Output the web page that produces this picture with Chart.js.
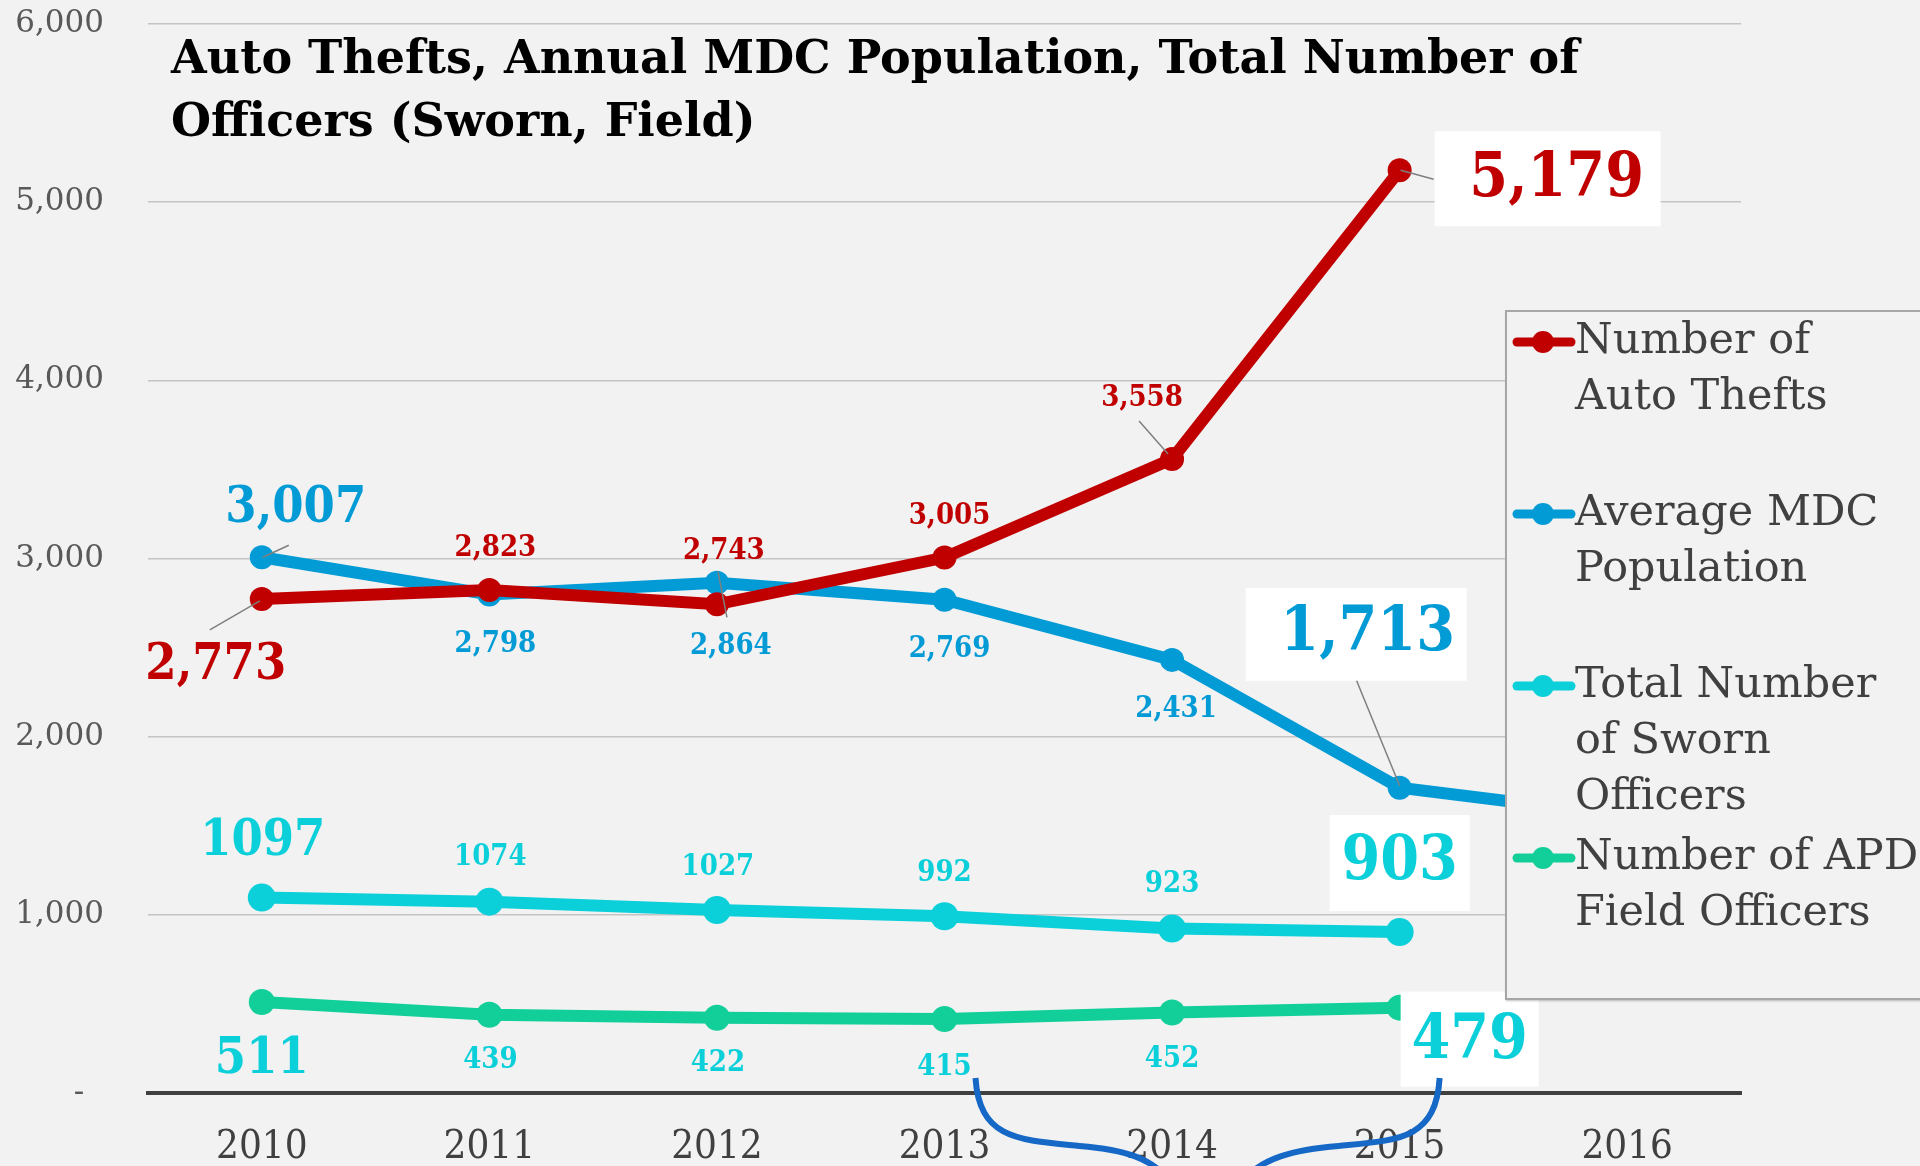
<!DOCTYPE html>
<html lang="en">
<head>
<meta charset="UTF-8">
<title>Auto Thefts, Annual MDC Population, Total Number of Officers</title>
<script src="https://cdn.jsdelivr.net/npm/chart.js"></script>
<style>
  html, body { margin: 0; padding: 0; background: #f2f2f2; }
  #wrap { width: 1920px; height: 1166px; position: relative; }
</style>
</head>
<body>
<div id="wrap"><canvas id="chart"></canvas></div>
<script>
// yearly figures
const years = ['2010', '2011', '2012', '2013', '2014', '2015', '2016'];
const autoThefts = [2773, 2823, 2743, 3005, 3558, 5179, null];
const mdcPopulation = [3007, 2798, 2864, 2769, 2431, 1713, 1555];
const swornOfficers = [1097, 1074, 1027, 992, 923, 903, null];
const fieldOfficers = [511, 439, 422, 415, 452, 479, null];

const seriesNames = ['Number of Auto Thefts', 'Average MDC Population', 'Total Number of Sworn Officers', 'Number of APD Field Officers'];
const legendLines = [['Number of', 'Auto Thefts'], ['Average MDC', 'Population'], ['Total Number', 'of Sworn', 'Officers'], ['Number of APD', 'Field Officers']];
const seriesColors = ['#c00000', '#039bd6', '#0bcfd9', '#12cf9a'];
const labelColors = ['#c00000', '#039bd6', '#0bcfd9', '#0bcfd9'];

const TEXT = '#404040';
const SERIF = "'DejaVu Serif'";
const SERIF_C = "'DejaVu Serif Condensed', 'DejaVu Serif'";

// value label placement: [dx, dy, size] from the point, optional white box and leader
const S = 29, M = 50, L = 62;
const labelLayout = [
  [ {d: [-46, 67, M], lead: [-2, 2, -52, 31]}, {d: [6, -42, S]}, {d: [7, -53, S], lead: [1, -33, 10, 13]},
    {d: [5, -41, S]}, {d: [-30, -61, S], lead: [-33, -38, -4, -5]},
    {d: [157, 10, L], box: [-122, -49, 104, 46], lead: [1, 0, 34, 9]}, null ],
  [ {d: [34, -48, M], lead: [1, 0, 27, -12]}, {d: [6, 50, S]}, {d: [14, 64, S]}, {d: [5, 50, S]}, {d: [4, 50, S]},
    {d: [-32, -154, L], box: [-122, -46, 99, 47], lead: [-43, -107, 0, -2]}, null ],
  [ {d: [1, -56, M]}, {d: [1, -44, S]}, {d: [1, -43, S]}, {d: [0, -43, S]}, {d: [0, -44, S]},
    {d: [0, -69, L], box: [-70, -48, 70, 48]}, null ],
  [ {d: [0, 58, M]}, {d: [1, 46, S]}, {d: [1, 46, S]}, {d: [0, 48, S]}, {d: [0, 47, S]},
    {d: [70, 34, L], box: [-69, -50, 69, 45]}, null ]
];

function fmt(v) { return v.toLocaleString('en-US'); }

const valueLabels = {
  id: 'valueLabels',
  afterDatasetsDraw(chart) {
    const ctx = chart.ctx;
    ctx.save();
    chart.data.datasets.forEach((ds, i) => {
      const meta = chart.getDatasetMeta(i);
      meta.data.forEach((pt, j) => {
        const lay = labelLayout[i][j];
        if (!lay || ds.data[j] == null) return;
        const cx = pt.x + lay.d[0], cy = pt.y + lay.d[1];
        if (lay.box) {
          ctx.fillStyle = '#ffffff';
          ctx.fillRect(cx + lay.box[0], cy + lay.box[1], lay.box[2] - lay.box[0], lay.box[3] - lay.box[1]);
        }
        if (lay.lead) {
          ctx.strokeStyle = '#7f7f7f';
          ctx.lineWidth = 1.5;
          ctx.beginPath();
          ctx.moveTo(pt.x + lay.lead[0], pt.y + lay.lead[1]);
          ctx.lineTo(pt.x + lay.lead[2], pt.y + lay.lead[3]);
          ctx.stroke();
        }
        ctx.fillStyle = labelColors[i];
        ctx.font = 'bold ' + lay.d[2] + 'px ' + SERIF_C;
        ctx.textAlign = 'center';
        ctx.textBaseline = 'middle';
        const txt = i >= 2 ? String(ds.data[j]) : fmt(ds.data[j]);
        ctx.fillText(txt, cx, cy);
      });
    });
    ctx.restore();
  }
};

const overlay = {
  id: 'overlay',
  afterDraw(chart) {
    const ctx = chart.ctx;
    const area = chart.chartArea;
    const xs = chart.scales.x;
    ctx.save();

    // title inside the plot
    ctx.fillStyle = '#000000';
    ctx.font = 'bold 46px ' + SERIF;
    ctx.textAlign = 'left';
    ctx.textBaseline = 'middle';
    ctx.fillText('Auto Thefts, Annual MDC Population, Total Number of', area.left + 23, 61);
    ctx.fillText('Officers (Sworn, Field)', area.left + 23, 124);

    // legend panel on the right, covering the tail of the MDC line
    const bx = area.right - 235, by = 311;
    ctx.save();
    ctx.shadowColor = 'rgba(0,0,0,0.25)';
    ctx.shadowOffsetY = 2;
    ctx.shadowBlur = 2;
    ctx.fillStyle = '#f2f2f2';
    ctx.fillRect(bx, by, 500, 688);
    ctx.restore();
    ctx.strokeStyle = '#a6a6a6';
    ctx.lineWidth = 2;
    ctx.strokeRect(bx, by, 500, 688);

    ctx.font = '43px ' + SERIF;
    ctx.textBaseline = 'middle';
    legendLines.forEach((lines, i) => {
      const y = by + 31 + i * 172;
      ctx.strokeStyle = seriesColors[i];
      ctx.lineWidth = 9;
      ctx.lineCap = 'round';
      ctx.beginPath();
      ctx.moveTo(bx + 11, y);
      ctx.lineTo(bx + 65, y);
      ctx.stroke();
      ctx.fillStyle = seriesColors[i];
      ctx.beginPath();
      ctx.arc(bx + 37, y, 11, 0, Math.PI * 2);
      ctx.fill();
      ctx.fillStyle = TEXT;
      lines.forEach((t, k) => ctx.fillText(t, bx + 69, y + k * 56));
    });

    // blue bracket strokes below the 2013-2015 labels
    const top = area.bottom - 15;
    const lx = xs.getPixelForValue(3) + 31;
    const rx = xs.getPixelForValue(5) + 40;
    ctx.strokeStyle = '#1668c6';
    ctx.lineWidth = 6;
    ctx.lineCap = 'butt';
    ctx.beginPath();
    ctx.moveTo(lx, top);
    ctx.bezierCurveTo(lx + 4, top + 62, lx + 44, top + 62, lx + 104, top + 68);
    ctx.bezierCurveTo(lx + 154, top + 72, lx + 174, top + 82, lx + 189, top + 97);
    ctx.stroke();
    ctx.beginPath();
    ctx.moveTo(rx, top);
    ctx.bezierCurveTo(rx - 4, top + 62, rx - 41, top + 62, rx - 101, top + 68);
    ctx.bezierCurveTo(rx - 151, top + 72, rx - 176, top + 82, rx - 191, top + 97);
    ctx.stroke();
    ctx.restore();
  }
};

function lineSet(i, values, width, radius) {
  return {
    label: seriesNames[i],
    data: values,
    borderColor: seriesColors[i],
    backgroundColor: seriesColors[i],
    borderWidth: width,
    pointRadius: radius,
    pointHoverRadius: radius,
    pointBorderWidth: 0,
    tension: 0,
    spanGaps: false
  };
}

new Chart(document.getElementById('chart'), {
  type: 'line',
  data: {
    labels: years,
    datasets: [
      lineSet(0, autoThefts, 12, 12),
      lineSet(1, mdcPopulation, 12, 12),
      lineSet(2, swornOfficers, 12, 14),
      lineSet(3, fieldOfficers, 12, 13)
    ]
  },
  options: {
    responsive: true,
    maintainAspectRatio: false,
    animation: false,
    devicePixelRatio: 1,
    layout: { padding: { top: 24, right: 179, left: 0, bottom: 0 } },
    plugins: { legend: { display: false }, tooltip: { enabled: false } },
    scales: {
      x: {
        offset: true,
        grid: { display: false, drawTicks: false },
        border: { display: true, color: TEXT, width: 4 },
        ticks: { color: TEXT, padding: 31, font: { family: SERIF_C, size: 40 } },
        afterFit(scale) { scale.height = 73; }
      },
      y: {
        min: 0,
        max: 6000,
        ticks: {
          stepSize: 1000,
          color: '#595959',
          padding: 0,
          font: { family: SERIF, size: 31 },
          callback: v => v === 0 ? '-  ' : fmt(v)
        },
        // invisible tick marks keep the labels clear of the plot
        grid: { color: '#c4c4c4', lineWidth: 1.5, drawTicks: true, tickLength: 44, tickColor: 'rgba(0,0,0,0)' },
        border: { display: false },
        afterFit(scale) { scale.width = 148; }
      }
    }
  },
  plugins: [valueLabels, overlay]
});
</script>
</body>
</html>
